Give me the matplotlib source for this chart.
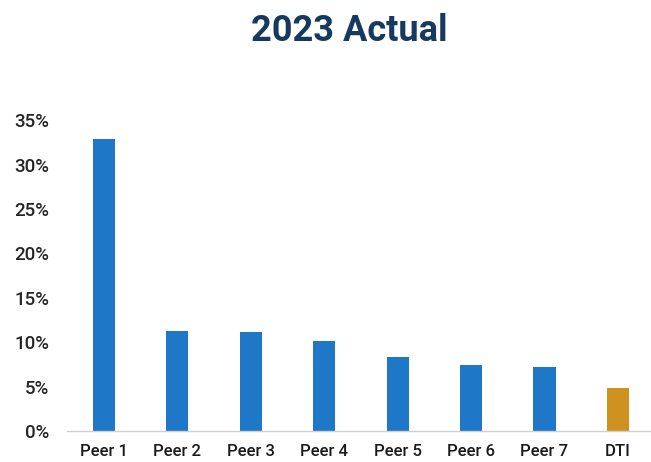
import matplotlib
matplotlib.use("Agg")
import matplotlib.pyplot as plt
from matplotlib.ticker import PercentFormatter

categories = ["Peer 1", "Peer 2", "Peer 3", "Peer 4", "Peer 5", "Peer 6", "Peer 7", "DTI"]
values = [32.9, 11.3, 11.15, 10.1, 8.3, 7.4, 7.2, 4.8]
bar_colors = ["#1F77C8"] * 7 + ["#D0921E"]
y_ticks = [0, 5, 10, 15, 20, 25, 30, 35]

plt.rcParams["font.family"] = ["Roboto", "DejaVu Sans"]

fig = plt.figure(figsize=(6.51, 4.62), dpi=100)
ax = fig.add_axes([0.103, 0.067, 0.897, 0.673])

x = range(len(categories))
ax.bar(x, values, width=0.30, color=bar_colors, zorder=2)

ax.set_xlim(-0.5, 7.45)
ax.set_ylim(0, 35)
ax.set_yticks(y_ticks)
ax.yaxis.set_major_formatter(PercentFormatter(decimals=0))
ax.set_xticks(list(x))
ax.set_xticklabels(categories)

for s in ("top", "right", "left"):
    ax.spines[s].set_visible(False)
ax.spines["bottom"].set_color("#D0D0D0")
ax.spines["bottom"].set_linewidth(1.0)

ax.tick_params(axis="y", length=0, pad=13, labelsize=13.5, labelcolor="#262626")
ax.tick_params(axis="x", length=0, pad=9, labelsize=12, labelcolor="#1a1a1a")
for lbl in ax.get_yticklabels() + ax.get_xticklabels():
    lbl.set_fontweight("medium")

fig.text(0.537, 0.933, "2023 Actual", ha="center", va="center",
         fontsize=26, fontweight="bold", color="#163A5F")

fig.savefig("out.png", dpi=100)
